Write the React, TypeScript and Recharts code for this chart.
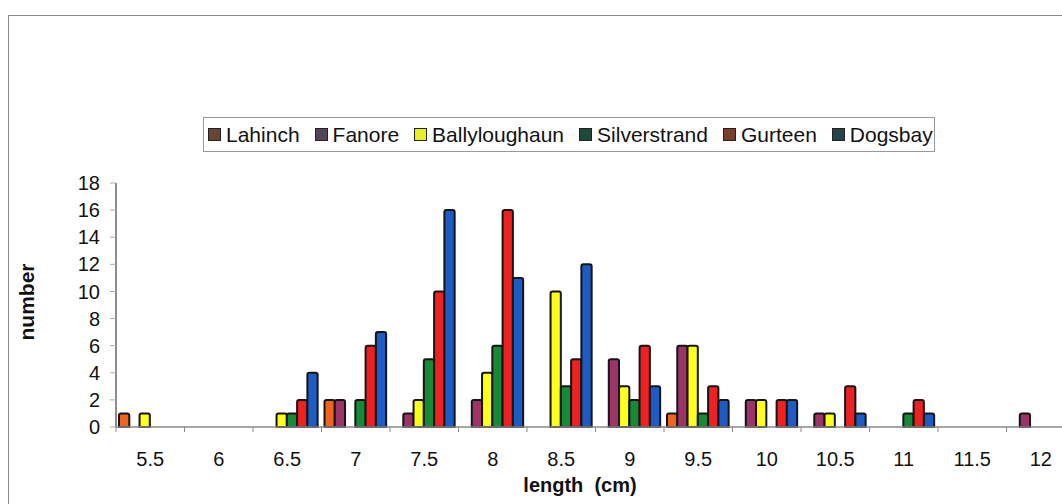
import { BarChart, Bar, XAxis, YAxis } from "recharts";

// length classes (cm) on the category axis
const lengths = ["5.5", "6", "6.5", "7", "7.5", "8", "8.5", "9", "9.5", "10", "10.5", "11", "11.5", "12"];

// counts per length class, one array per site
const lahinch = [1, 0, 0, 2, 0, 0, 0, 0, 1, 0, 0, 0, 0, 0];
const fanore = [0, 0, 0, 2, 1, 2, 0, 5, 6, 2, 1, 0, 0, 1];
const ballyloughaun = [1, 0, 1, 0, 2, 4, 10, 3, 6, 2, 1, 0, 0, 0];
const silverstrand = [0, 0, 1, 2, 5, 6, 3, 2, 1, 0, 0, 1, 0, 0];
const gurteen = [0, 0, 2, 6, 10, 16, 5, 6, 3, 2, 3, 2, 0, 0];
const dogsbay = [0, 0, 4, 7, 16, 11, 12, 3, 2, 2, 1, 1, 0, 0];

const yTicks = [0, 2, 4, 6, 8, 10, 12, 14, 16, 18];

const series = [
  { name: "Lahinch", values: lahinch, fill: "#f0641e", swatch: "#6b4438" },
  { name: "Fanore", values: fanore, fill: "#9c3468", swatch: "#54445a" },
  { name: "Ballyloughaun", values: ballyloughaun, fill: "#ffff1e", swatch: "#e8f020" },
  { name: "Silverstrand", values: silverstrand, fill: "#168a34", swatch: "#1d4a38" },
  { name: "Gurteen", values: gurteen, fill: "#ee2020", swatch: "#7a3e2e" },
  { name: "Dogsbay", values: dogsbay, fill: "#1c5cc4", swatch: "#24444a" },
];

const data = lengths.map((length, i) => {
  const row: Record<string, string | number> = { length };
  series.forEach((s) => (row[s.name] = s.values[i]));
  return row;
});

const FONT = '"Liberation Sans", Arial, sans-serif';
const PLOT_LEFT = 116;
const PLOT_RIGHT = 1075;
const BAND = (PLOT_RIGHT - PLOT_LEFT) / lengths.length;

// label in the middle of the class, tick mark on the boundary (Excel style)
function LengthTick({ x, y, payload }: any) {
  const bx = x - BAND / 2;
  return (
    <g>
      <line x1={bx} x2={bx} y1={y} y2={y + 5} stroke="#888" strokeWidth={1} />
      <text x={x} y={y + 39} textAnchor="middle" fontSize={20} fill="#111" fontFamily={FONT}>
        {payload.value}
      </text>
    </g>
  );
}

export default function App() {
  return (
    <div
      style={{
        position: "fixed",
        left: 0,
        top: 0,
        width: 1062,
        height: 504,
        overflow: "hidden",
        background: "#fff",
        fontFamily: FONT,
      }}
    >
      <div
        style={{
          position: "absolute",
          left: 8,
          top: 15,
          right: -10,
          bottom: -10,
          borderLeft: "1.5px solid #8a8a8a",
          borderTop: "1.5px solid #8a8a8a",
        }}
      />

      <div
        style={{
          position: "absolute",
          left: 203,
          top: 117,
          width: 732,
          height: 35,
          border: "1px solid #999",
          boxSizing: "border-box",
          display: "flex",
          alignItems: "center",
          paddingLeft: 4,
          fontSize: 21,
          color: "#111",
          whiteSpace: "nowrap",
        }}
      >
        {series.map((s) => (
          <div key={s.name} style={{ display: "flex", alignItems: "center", marginRight: 15 }}>
            <span
              style={{
                display: "inline-block",
                width: 11,
                height: 11,
                background: s.swatch,
                border: "1.5px solid #222",
                marginRight: 5,
              }}
            />
            <span>{s.name}</span>
          </div>
        ))}
      </div>

      <div style={{ position: "absolute", left: 0, top: 0 }}>
        <BarChart
          width={1100}
          height={504}
          data={data}
          margin={{ top: 183, right: 25, left: 56, bottom: 47 }}
          barCategoryGap={0}
          barGap={0}
        >
          <XAxis
            dataKey="length"
            interval={0}
            height={30}
            axisLine={{ stroke: "#888", strokeWidth: 1.5 }}
            tickLine={false}
            tickSize={0}
            tickMargin={0}
            tick={<LengthTick />}
          />
          <YAxis
            domain={[0, 18]}
            ticks={yTicks}
            interval={0}
            width={60}
            axisLine={{ stroke: "#666", strokeWidth: 1.5 }}
            tickLine={{ stroke: "#aaa" }}
            tickSize={6}
            tickMargin={10}
            tick={{ fontSize: 20, fill: "#111", fontFamily: FONT }}
          />
          {series.map((s) => (
            <Bar
              key={s.name}
              dataKey={s.name}
              fill={s.fill}
              stroke="#151515"
              strokeWidth={2}
              barSize={BAND / series.length}
              radius={[2, 2, 0, 0]}
              isAnimationActive={false}
            />
          ))}
        </BarChart>
      </div>

      <svg
        width={1062}
        height={504}
        style={{ position: "absolute", left: 0, top: 0, pointerEvents: "none" }}
      >
        <text
          x={580}
          y={492}
          textAnchor="middle"
          fontSize={20}
          fontWeight="bold"
          fill="#111"
          fontFamily={FONT}
          style={{ whiteSpace: "pre" }}
        >
          {"length  (cm)"}
        </text>
        <text
          x={26}
          y={302}
          textAnchor="middle"
          dominantBaseline="central"
          transform="rotate(-90 26 302)"
          fontSize={21}
          fontWeight="bold"
          fill="#111"
          fontFamily={FONT}
        >
          number
        </text>
      </svg>
    </div>
  );
}
